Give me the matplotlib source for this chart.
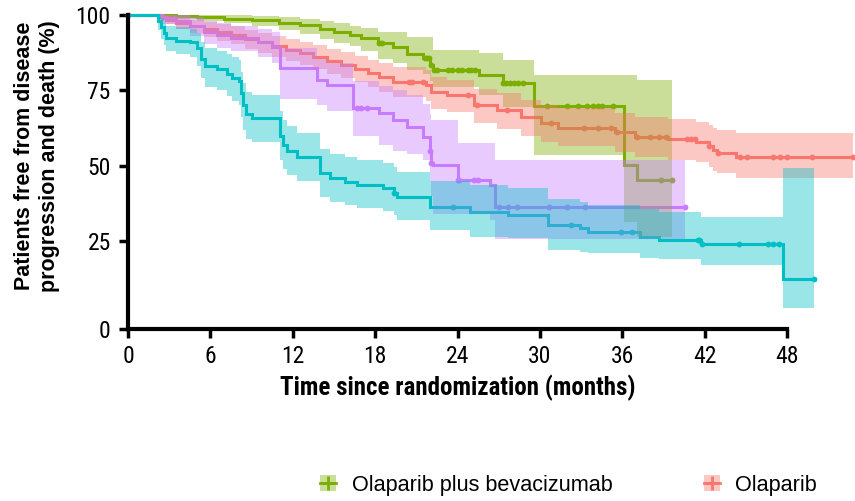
import numpy as np
import matplotlib
matplotlib.use("Agg")
import matplotlib.pyplot as plt
from matplotlib import font_manager
from matplotlib.patches import Patch
from matplotlib.lines import Line2D

# ---------------- data ----------------
green_t = [0, 3.5, 5, 7, 9, 11, 12.5, 14, 15, 16.2, 17, 18.2, 19.3, 20.3, 21.5, 22.0, 22.2, 25.6, 27.3, 29.6, 36.1, 37.1, 39.6]
green_s = [100, 99.6, 99.2, 98.7, 98.2, 97.4, 96.7, 95.5, 94.4, 93.4, 92.4, 90.7, 89.4, 87.0, 85.7, 83.4, 81.7, 80.0, 77.4, 69.8, 50.2, 45.2, 45.2]
green_hi = [100, 100, 100, 99.9, 99.7, 99.2, 98.7, 98, 97.3, 96.5, 95.8, 94.4, 94.4, 92.7, 92.7, 92.7, 88.4, 87.4, 85, 80, 80, 78.4, 78.4]
green_lo = [100, 98.7, 98, 97.2, 96.2, 94.9, 93.8, 92.2, 90.8, 89.6, 88.2, 85.5, 84, 81.7, 80.3, 78, 76, 73.4, 69.4, 53.5, 31.2, 26.2, 26.2]
green_cens = [18.3, 18.5, 21.6, 21.8, 21.9, 22.05, 22.3, 22.5, 23.3, 23.6, 24.0, 24.3, 24.8, 25.0, 25.3,
              27.3, 27.5, 27.8, 28.1, 28.4, 28.8, 30.5, 32.0, 32.8, 33.4, 33.9, 34.2, 34.5, 35.3, 38.8, 39.6]

red_t = [0, 2.3, 2.8, 3.5, 4.5, 5.5, 6.5, 7.5, 8.5, 9.5, 10.5, 11.5, 12.5, 13.5, 14.5, 15.5, 16.5, 17.5, 18.3, 19.3,
         21.7, 22.1, 23.2, 25.2, 26.9, 28.6, 30.1, 31.3, 35.5, 36.9, 39.3, 41.4, 42.3, 42.6, 42.9, 44.3, 52.8]
red_s = [100, 99.3, 98.5, 97.5, 96.5, 95.5, 94.5, 93.5, 92.0, 91.0, 89.8, 88.5, 87.3, 86.0, 84.7, 83.4, 82.2, 80.7, 79.4, 77.7,
         76.7, 74.4, 73.4, 70.0, 68.4, 66.0, 64.1, 62.5, 61.1, 59.5, 58.8, 57.8, 56.5, 55.2, 54.2, 52.8, 52.8]
red_hi = [100, 100, 99.8, 99.3, 98.5, 97.8, 97, 96.2, 95, 94, 93, 92, 91, 90, 88.8, 87.6, 86.5, 85.2, 84.2, 82.7,
          81.7, 79.4, 78.5, 75.5, 74, 71.8, 70, 69, 67.5, 66, 65.5, 64.5, 63.5, 62.5, 61.8, 60.8, 60.8]
red_lo = [100, 98, 97, 95.5, 94, 92.8, 91.5, 90.3, 88.7, 87.5, 86.2, 84.7, 83.3, 82, 80.5, 79, 77.6, 76, 74.6, 72.8,
          71.5, 68.8, 67.8, 64, 62.3, 60, 57.8, 56.5, 54.5, 52.8, 52, 51.2, 49.5, 48.3, 47.5, 45.8, 45.8]
red_cens = [20.5, 20.7, 21.5, 24.8, 25.4, 27.6, 30.8, 33.2, 34.2, 35.2, 35.6, 37.1, 38.0, 38.7, 39.2, 40.7, 41.0, 41.3,
            42.3, 43.0, 44.6, 45.1, 47.0, 47.5, 48.0, 49.8, 52.8]

purple_t = [0, 2.5, 3.5, 4.5, 5.5, 6.5, 7.5, 9.5, 10.5, 11.1, 13.8, 14.5, 16.4, 18.3, 19.3, 20.3, 21.5, 22.0, 22.1, 22.2, 24.0, 26.4, 26.7, 40.6]
purple_s = [100, 99, 98, 96.5, 94.5, 93.5, 92.5, 91, 89.5, 82.4, 78.4, 76.7, 69.1, 67.4, 65.0, 62.8, 59.5, 55, 51, 50.2, 45.2, 43.5, 36.2, 36.2]
purple_hi = [100, 100, 100, 99.5, 98, 97.5, 96.5, 95.5, 94.5, 89, 85.5, 84, 78, 76.5, 75, 73.5, 70.5, 67, 65, 65, 57.5, 57.5, 51.8, 51.8]
purple_lo = [100, 97, 95.5, 93, 90.5, 89, 88, 86, 84, 72, 70, 68, 60, 57, 55, 54, 52, 45, 40, 34, 34, 32, 25.5, 25.5]
purple_cens = [0, 16.7, 17.0, 17.4, 22.0, 22.1, 24.0, 24.1, 25.2, 25.5, 27.0, 27.7, 28.3, 30.7, 32.0, 33.3, 40.6]

cyan_t = [0, 2.2, 2.4, 2.6, 2.8, 3.5, 4.5, 5.0, 5.3, 5.6, 6.5, 7.2, 7.6, 8.1, 8.2, 8.4, 8.6, 9.0, 11.1, 11.3, 11.6, 12.3,
          14.0, 14.7, 15.8, 16.7, 18.6, 19.4, 19.6, 22.0, 24.9, 27.7, 30.6, 32.9, 33.5, 37.3, 38.7, 41.7, 47.7, 50.0]
cyan_s = [100, 98, 96, 94, 92.5, 91.5, 91, 89, 85.5, 83, 82, 80.5, 79, 78, 74, 70, 67, 65.8, 60, 57, 55, 52.8,
          47.5, 45.8, 44.5, 43.5, 42.5, 40.9, 39.5, 36.2, 34.6, 33.6, 30.2, 29.2, 27.9, 26.3, 25.2, 24.0, 12.5, 12.5]
cyan_hi = [100, 100, 99, 98, 96.5, 96, 95.5, 94, 91, 89, 88, 87, 86, 85, 81, 77.5, 74.5, 73.5, 68, 65, 63, 61,
           55.5, 54, 53, 52, 51, 49.5, 48, 45, 43.5, 42.5, 39, 38, 37, 35.5, 34.6, 33, 49.2, 49.2]
cyan_lo = [100, 95, 92, 90, 88, 87, 86, 83, 79, 76, 75, 73, 71.5, 70, 66, 62, 59, 58, 52, 49, 47, 45,
           39.5, 38, 37, 36, 35, 33.5, 32, 28.6, 26.2, 26, 22, 21.5, 21, 19.3, 19, 17, 2.7, 2.7]
cyan_cens = [19.4, 23.7, 32.3, 35.9, 36.7, 41.5, 41.6, 41.8, 44.5, 46.6, 47.0, 47.4, 50.0]

series_names = ["Olaparib plus bevacizumab", "Olaparib", "Placebo plus bevacizumab", "Placebo"]
colors = ["#7CAE00", "#F8766D", "#C77CFF", "#00BFC4"]
x_ticks = [0, 6, 12, 18, 24, 30, 36, 42, 48]
y_tick_labels = ["0", "25", "50", "75", "100"]

# ---------------- fonts ----------------
names = {f.name for f in font_manager.fontManager.ttflist}
base = "Liberation Sans" if "Liberation Sans" in names else "DejaVu Sans"
narrow = None
for cand in ["Liberation Sans Narrow", "Roboto Condensed", "Archivo Narrow", "PT Sans Narrow"]:
    if cand in names:
        narrow = cand
        break
if narrow:
    tick_font = dict(family=narrow, size=17)
    xlab_font = dict(family=narrow, size=18, weight="bold")
else:
    tick_font = dict(family=base, size=16)
    xlab_font = dict(family=base, size=15.3, weight="bold")

# ---------------- figure ----------------
W, H = 855, 501
fig = plt.figure(figsize=(W / 100, H / 100), dpi=100)
ax_left, ax_right, ax_top, ax_bot = 128, 855, 15, 329
ax = fig.add_axes([ax_left / W, 1 - ax_bot / H, (ax_right - ax_left) / W, (ax_bot - ax_top) / H])

px_per_month = (787 - 128) / 48.0
xmax = (ax_right - ax_left) / px_per_month
px_per_unit = (241 - 15) / 75.0
ybottom = 100 - (ax_bot - ax_top) / px_per_unit
ax.set_xlim(0, xmax)
ax.set_ylim(ybottom, 100)

data = [
    (green_t, green_s, green_lo, green_hi, green_cens),
    (red_t, red_s, red_lo, red_hi, red_cens),
    (purple_t, purple_s, purple_lo, purple_hi, purple_cens),
    (cyan_t, cyan_s, cyan_lo, cyan_hi, cyan_cens),
]

for (t, s, lo, hi, cens), col, name in zip(data, colors, series_names):
    t = np.asarray(t); s = np.asarray(s)
    ax.step(t, s, where="post", color=col, lw=2.2, zorder=2, clip_on=False, label=name,
            solid_joinstyle="miter")
    c = np.asarray(cens)
    idx = np.clip(np.searchsorted(t, c, side="right") - 1, 0, len(s) - 1)
    ax.plot(c, s[idx], "o", color=col, ms=4.2, mew=0, zorder=2, clip_on=False)

for (t, s, lo, hi, cens), col in zip(data, colors):
    ax.fill_between(t, lo, hi, step="post", color=col, alpha=0.4, lw=0, zorder=3)

for sp in ["top", "right"]:
    ax.spines[sp].set_visible(False)
for sp in ["left", "bottom"]:
    ax.spines[sp].set_linewidth(3)
ax.spines["bottom"].set_bounds(0, 48)

ax.set_xticks(x_ticks)
ax.set_xticklabels([str(v) for v in x_ticks], fontdict=tick_font)
ax.set_yticks([ybottom, 25, 50, 75, 100])
ax.set_yticklabels(y_tick_labels, fontdict=tick_font)
ax.tick_params(axis="both", direction="out", length=6.5, width=2.5, color="black")
ax.tick_params(axis="y", pad=6)
ax.tick_params(axis="x", pad=5)

fig.text(458 / W, 1 - 388 / H, "Time since randomization (months)", ha="center", va="center", **xlab_font)
fig.text(37 / W, 1 - 156 / H, "Patients free from disease\nprogression and death (%)", rotation=90,
         ha="center", va="center", multialignment="center", family=base, size=15.5, weight="bold",
         linespacing=1.25)

# legend (only the first two entries are visible in the reference)
handles = []
for col in colors[:2]:
    handles.append((Patch(facecolor=col, alpha=0.4, edgecolor="none"),
                    Line2D([], [], color=col, lw=2, marker="+", ms=10, mew=2)))
fs = 15.6
leg = fig.legend(handles, series_names[:2], loc="center left",
                 bbox_to_anchor=(320 / W, 1 - 485 / H), ncol=2, frameon=False,
                 prop=dict(family=base, size=fs), handlelength=0.75, handleheight=0.75,
                 handletextpad=0.72, columnspacing=4.2, borderpad=0, borderaxespad=0)

fig.savefig("out.png", dpi=100)
